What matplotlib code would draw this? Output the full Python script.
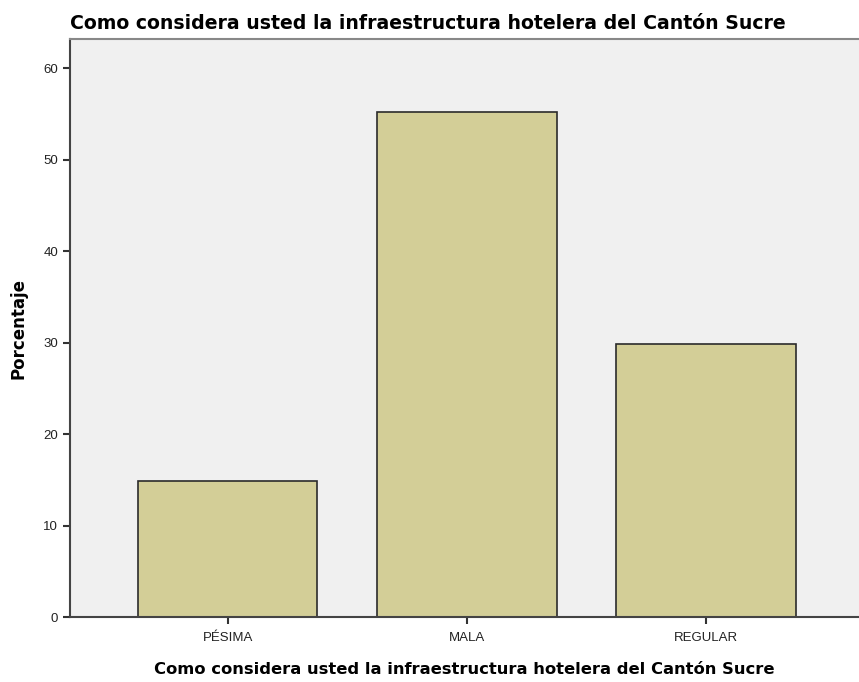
import matplotlib.pyplot as plt

# data
categorias = ['PÉSIMA', 'MALA', 'REGULAR']
porcentajes = [14.9, 55.2, 29.9]
titulo = 'Como considera usted la infraestructura hotelera del Cantón Sucre'

plt.rcParams['font.family'] = ['Liberation Sans', 'DejaVu Sans']

fig = plt.figure(figsize=(8.59, 6.82), dpi=100)
ax = fig.add_axes([0.0815, 0.0953, 0.9185, 0.8475])
ax.set_facecolor('#f0f0f0')

x = list(range(len(categorias)))
ax.bar(x, porcentajes, width=0.75, color='#d3ce97', edgecolor='#2b2b2b', linewidth=1.2)

ax.set_xlim(-0.66, 2.64)
ax.set_ylim(0, 63.2)
ax.set_yticks([0, 10, 20, 30, 40, 50, 60])
ax.set_xticks(x)
ax.set_xticklabels(categorias)
ax.tick_params(axis='both', direction='out', length=5, width=1.5, color='#333333',
               labelsize=9.5, labelcolor='#222222')
ax.tick_params(axis='x', pad=6)

for s in ['left', 'bottom']:
    ax.spines[s].set_color('#444444')
    ax.spines[s].set_linewidth(1.5)
ax.spines['top'].set_color('#888888')
ax.spines['top'].set_linewidth(1.5)
ax.spines['right'].set_visible(False)

bold = dict(family='DejaVu Sans', fontweight='bold')
ax.set_ylabel('Porcentaje', fontsize=12, **bold)
ax.yaxis.set_label_coords(-0.054, 0.5)
ax.set_xlabel(titulo, fontsize=11.8, labelpad=13, **bold)
fig.text(0.0815, 0.965, titulo, fontsize=13.6, ha='left', va='center', **bold)

fig.savefig('out.png', dpi=100)
